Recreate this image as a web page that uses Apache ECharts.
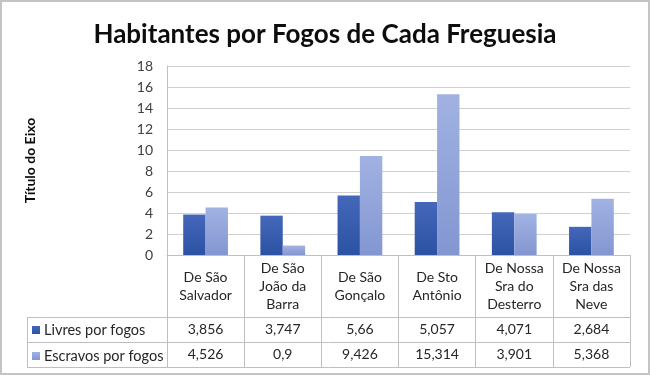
<!DOCTYPE html>
<html>
<head>
<meta charset="utf-8">
<script src="https://cdn.jsdelivr.net/npm/echarts@6/dist/echarts.min.js"></script>
<style>
  html, body { margin: 0; padding: 0; background: #fff; }
  #chart { width: 650px; height: 375px; }
</style>
</head>
<body>
<div id="chart"></div>
<script>
// dados
const categories = [
  'De São\nSalvador',
  'De São\nJoão da\nBarra',
  'De São\nGonçalo',
  'De Sto\nAntônio',
  'De Nossa\nSra do\nDesterro',
  'De Nossa\nSra das\nNeve'
];
const seriesNames = ['Livres por fogos', 'Escravos por fogos'];
const livres   = [3.856, 3.747, 5.66, 5.057, 4.071, 2.684];
const escravos = [4.526, 0.9, 9.426, 15.314, 3.901, 5.368];
const yTicks   = { min: 0, max: 18, interval: 2 };

// layout (px)
const W = 650, H = 375;
const gridLeft = 167, gridRight = 630, gridTop = 66, gridBottom = 255;
const tableLeft = 27;
const catRowH = 62, rowH = 25;
const row1Top = gridBottom + catRowH;   // 317
const row2Top = row1Top + rowH;         // 342
const tableBottom = row2Top + rowH;     // 367

const FONT = 'Lato, "Liberation Sans", sans-serif';
const TXT = '#404040';
const LINE = '#bfbfbf';

const fmt = v => String(v).replace('.', ',');

const grad = (a, b) => new echarts.graphic.LinearGradient(0, 0, 0, 1, [
  { offset: 0, color: a }, { offset: 1, color: b }
]);

const chart = echarts.init(document.getElementById('chart'));

const valueAxis = (data, rowTop) => ({
  type: 'category',
  gridIndex: 0,
  position: 'bottom',
  offset: rowTop - gridBottom + rowH / 2,
  data: data.map(fmt),
  axisLine: { show: false },
  axisTick: { show: false },
  axisLabel: {
    margin: 0, verticalAlign: 'middle',
    fontFamily: FONT, fontSize: 14, color: '#262626', interval: 0
  }
});

const hLine = (x1, x2, y) => ({
  type: 'line', silent: true,
  shape: { x1: x1, y1: y + 0.5, x2: x2, y2: y + 0.5 },
  style: { stroke: LINE, lineWidth: 1 }
});

chart.setOption({
  backgroundColor: '#fff',
  animation: false,
  title: {
    text: 'Habitantes por Fogos de Cada Freguesia',
    left: 'center', top: 17,
    textStyle: { fontFamily: FONT, fontSize: 26, fontWeight: 'bold', color: '#0d0d0d' }
  },
  legend: {
    orient: 'vertical',
    left: tableLeft + 5, top: row1Top + 5.5,
    padding: 0,
    itemWidth: 8, itemHeight: 8, itemGap: 11,
    icon: 'rect',
    data: seriesNames,
    textStyle: { fontFamily: FONT, fontSize: 14.5, color: '#262626', padding: [0, 0, 0, -1], lineHeight: 14 }
  },
  grid: {
    left: gridLeft, right: W - gridRight, top: gridTop, bottom: H - gridBottom,
    containLabel: false
  },
  xAxis: [
    {
      type: 'category',
      data: categories,
      axisLine: { lineStyle: { color: LINE } },
      axisTick: { show: true, length: tableBottom - gridBottom, lineStyle: { color: LINE } },
      axisLabel: {
        interval: 0, margin: catRowH / 2, verticalAlign: 'middle',
        fontFamily: FONT, fontSize: 14, lineHeight: 18, color: '#262626'
      }
    },
    valueAxis(livres, row1Top),
    valueAxis(escravos, row2Top)
  ],
  yAxis: {
    type: 'value',
    min: yTicks.min, max: yTicks.max, interval: yTicks.interval,
    name: 'Título do Eixo',
    nameLocation: 'middle',
    nameGap: 130,
    nameTextStyle: { fontFamily: FONT, fontSize: 14, fontWeight: 'bold', color: '#0d0d0d' },
    axisLine: { show: true, lineStyle: { color: LINE } },
    axisTick: { show: false },
    axisLabel: { margin: 14, fontFamily: FONT, fontSize: 14, color: TXT },
    splitLine: { lineStyle: { color: '#d0d0d0' } }
  },
  series: [
    {
      name: seriesNames[0], type: 'bar', data: livres,
      barGap: '0%', barCategoryGap: '42%',
      itemStyle: { color: grad('#4567b9', '#2b52a4') }
    },
    {
      name: seriesNames[1], type: 'bar', data: escravos,
      itemStyle: { color: grad('#a1b2e2', '#8396d1') }
    }
  ],
  graphic: [
    hLine(tableLeft, gridRight, row1Top),
    hLine(tableLeft, gridRight, row2Top),
    hLine(tableLeft, gridRight, tableBottom),
    {
      type: 'line', silent: true,
      shape: { x1: tableLeft + 0.5, y1: row1Top, x2: tableLeft + 0.5, y2: tableBottom },
      style: { stroke: LINE, lineWidth: 1 }
    },
    {
      type: 'rect', silent: true,
      shape: { x: 1, y: 1, width: W - 2, height: H - 2 },
      style: { fill: null, stroke: '#c4c4c4', lineWidth: 2 }
    }
  ]
});
</script>
</body>
</html>
